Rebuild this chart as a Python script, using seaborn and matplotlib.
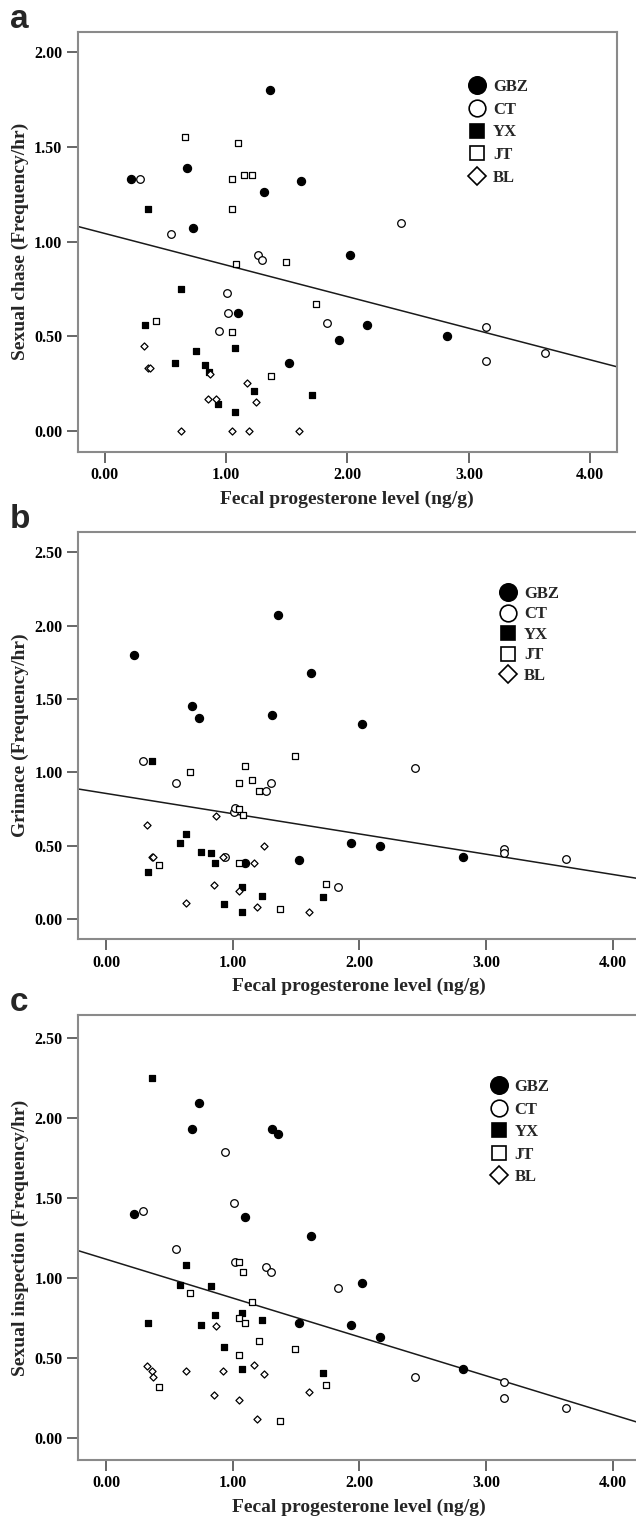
import matplotlib
matplotlib.use('Agg')
import matplotlib.pyplot as plt
import numpy as np
import pandas as pd
import seaborn as sns
from matplotlib.lines import Line2D
from matplotlib.ticker import FormatStrFormatter

# fecal progesterone (ng/g) per female, shared by the three panels
gbz_x = [0.22, 0.68, 0.73, 1.10, 1.31, 1.36, 1.52, 1.62, 1.93, 2.02, 2.16, 2.82]
ct_x = [0.29, 0.55, 0.94, 1.01, 1.02, 1.26, 1.30, 1.83, 2.44, 3.14, 3.14, 3.63]
yx_x = [0.33, 0.36, 0.58, 0.63, 0.75, 0.83, 0.86, 0.93, 1.07, 1.07, 1.23, 1.71]
jt_x = [0.42, 0.66, 1.05, 1.05, 1.05, 1.08, 1.10, 1.15, 1.21, 1.37, 1.49, 1.74]
bl_x = [0.32, 0.36, 0.37, 0.63, 0.85, 0.87, 0.92, 1.05, 1.17, 1.19, 1.25, 1.60]

# a: sexual chase
chase_gbz = [1.33, 1.39, 1.07, 0.62, 1.26, 1.80, 0.36, 1.32, 0.48, 0.93, 0.56, 0.50]
chase_ct = [1.33, 1.04, 0.53, 0.73, 0.62, 0.93, 0.90, 0.57, 1.10, 0.55, 0.37, 0.41]
chase_yx = [0.56, 1.17, 0.36, 0.75, 0.42, 0.35, 0.31, 0.14, 0.44, 0.10, 0.21, 0.19]
chase_jt = [0.58, 1.55, 1.33, 1.17, 0.52, 0.88, 1.52, 1.35, 1.35, 0.29, 0.89, 0.67]
chase_bl = [0.45, 0.33, 0.33, 0.00, 0.17, 0.30, 0.17, 0.00, 0.25, 0.00, 0.15, 0.00]

# b: grimace
grim_gbz = [1.80, 1.45, 1.37, 0.38, 1.39, 2.07, 0.40, 1.68, 0.52, 1.33, 0.50, 0.42]
grim_ct = [1.08, 0.93, 0.42, 0.73, 0.76, 0.87, 0.93, 0.22, 1.03, 0.48, 0.45, 0.41]
grim_yx = [0.32, 1.08, 0.52, 0.58, 0.46, 0.45, 0.38, 0.10, 0.22, 0.05, 0.16, 0.15]
grim_jt = [0.37, 1.00, 0.93, 0.75, 0.38, 0.71, 1.04, 0.95, 0.87, 0.07, 1.11, 0.24]
grim_bl = [0.64, 0.42, 0.42, 0.11, 0.23, 0.70, 0.42, 0.19, 0.38, 0.08, 0.50, 0.05]

# c: sexual inspection
insp_gbz = [1.40, 1.93, 2.09, 1.38, 1.93, 1.90, 0.72, 1.26, 0.71, 0.97, 0.63, 0.43]
insp_ct = [1.42, 1.18, 1.79, 1.47, 1.10, 1.07, 1.04, 0.94, 0.38, 0.35, 0.25, 0.19]
insp_yx = [0.72, 2.25, 0.96, 1.08, 0.71, 0.95, 0.77, 0.57, 0.78, 0.43, 0.74, 0.41]
insp_jt = [0.32, 0.91, 1.10, 0.75, 0.52, 1.04, 0.72, 0.85, 0.61, 0.11, 0.56, 0.33]
insp_bl = [0.45, 0.42, 0.38, 0.42, 0.27, 0.70, 0.42, 0.24, 0.46, 0.12, 0.40, 0.29]

# fitted lines as printed in the figure (intercept, slope)
fit_a = (1.043, -0.167)
fit_b = (0.856, -0.138)
fit_c = (1.118, -0.2425)

groups = ['GBZ', 'CT', 'YX', 'JT', 'BL']
group_x = [gbz_x, ct_x, yx_x, jt_x, bl_x]

panels = [
    ('a', 'Sexual chase (Frequency/hr)', [chase_gbz, chase_ct, chase_yx, chase_jt, chase_bl], fit_a),
    ('b', 'Grimace (Frequency/hr)', [grim_gbz, grim_ct, grim_yx, grim_jt, grim_bl], fit_b),
    ('c', 'Sexual inspection (Frequency/hr)', [insp_gbz, insp_ct, insp_yx, insp_jt, insp_bl], fit_c),
]

# marker, filled, scatter size, legend size
styles = {
    'GBZ': ('o', True, 34, 12.5),
    'CT': ('o', False, 30, 12.0),
    'YX': ('s', True, 18, 9.5),
    'JT': ('s', False, 16, 9.5),
    'BL': ('D', False, 13, 9.0),
}

sns.set_theme(style='ticks')
plt.rcParams['font.family'] = ['Liberation Serif', 'DejaVu Serif']
plt.rcParams['font.weight'] = 'bold'

W, H = 636, 1518
fig = plt.figure(figsize=(W / 100, H / 100), dpi=100)

# axes boxes in pixels: left, top, right, bottom
boxes = [(77.7, 31.7, 617, 452), (78, 531.7, 640.6, 939.3), (78, 1015, 640.6, 1460)]
ylims = [(-0.112, 2.109), (-0.138, 2.64), (-0.135, 2.642)]
yticks = [np.arange(0, 2.01, 0.5), np.arange(0, 2.51, 0.5), np.arange(0, 2.51, 0.5)]
legend_pos = [(0.725, 0.888), (0.7496, 0.867), (0.733, 0.856)]
legend_gap = [0.41, 0.27, 0.39]
xlim = (-0.222, 4.22)

for i, (letter, ylabel, ys, fit) in enumerate(panels):
    l, t, r, b = boxes[i]
    ax = fig.add_axes([l / W, 1 - b / H, (r - l) / W, (b - t) / H])

    frames = []
    for g, gx, gy in zip(groups, group_x, ys):
        frames.append(pd.DataFrame({'x': gx, 'y': gy, 'group': g}))
    df = pd.concat(frames, ignore_index=True)

    for g in groups:
        m, filled, s, _ = styles[g]
        sub = df[df.group == g]
        sns.scatterplot(data=sub, x='x', y='y', ax=ax, marker=m, s=s,
                        facecolor='black' if filled else 'white',
                        edgecolor='black', linewidth=0.9, zorder=3, legend=False)

    line_x = np.array(xlim)
    sns.lineplot(x=line_x, y=fit[0] + fit[1] * line_x, ax=ax, color='#1a1a1a',
                 linewidth=1.1, zorder=2)

    ax.set_xlim(*xlim)
    ax.set_ylim(*ylims[i])
    ax.set_xticks(np.arange(0, 4.01, 1))
    ax.set_yticks(yticks[i])
    ax.xaxis.set_major_formatter(FormatStrFormatter('%.2f'))
    ax.yaxis.set_major_formatter(FormatStrFormatter('%.2f'))
    ax.tick_params(axis='both', direction='out', length=8, width=1.2, color='#4d4d4d',
                   labelsize=11.5, pad=3, labelcolor='black')
    for sp in ax.spines.values():
        sp.set_color('#8a8a8a')
        sp.set_linewidth(1.5)

    ax.set_xlabel('Fecal progesterone level (ng/g)', fontsize=14, fontweight='bold', labelpad=5)
    ax.set_ylabel(ylabel, fontsize=14, fontweight='bold', labelpad=4)

    handles = []
    for g in groups:
        m, filled, _, ms = styles[g]
        handles.append(Line2D([], [], linestyle='', marker=m, markersize=ms,
                              markerfacecolor='black' if filled else 'white',
                              markeredgecolor='black', markeredgewidth=1.2))
    ax.legend(handles, groups, loc='upper left', bbox_to_anchor=legend_pos[i],
              frameon=False, fontsize=12, handlelength=1.0, handletextpad=0.45,
              labelspacing=legend_gap[i], borderpad=0, borderaxespad=0)

    fig.text(10 / W, 1 - (t - 4) / H, letter, fontsize=24, fontweight='bold',
             family=['Liberation Sans', 'DejaVu Sans'], va='baseline', ha='left')

fig.savefig('out.png', dpi=100)
